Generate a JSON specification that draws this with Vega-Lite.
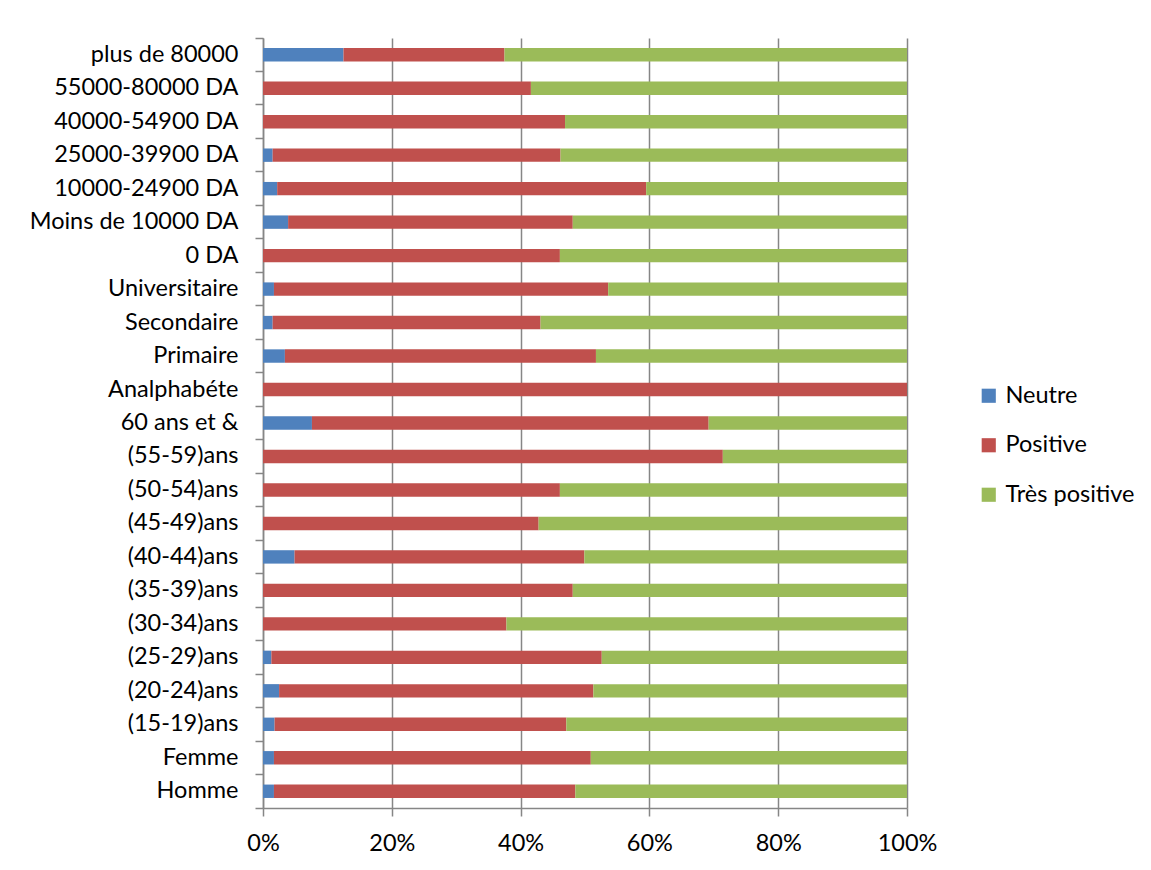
{
  "$schema": "https://vega.github.io/schema/vega-lite/v6.json",
  "width": 644,
  "height": 770,
  "autosize": {"type": "none"},
  "padding": {"left": 263, "top": 38, "right": 244, "bottom": 62},
  "background": "white",
  "config": {"view": {"stroke": null}, "font": "Lato"},
  "data": {"values": [
    {"cat": "plus de 80000", "rep": "Neutre", "val": 12.5},
    {"cat": "plus de 80000", "rep": "Positive", "val": 25.0},
    {"cat": "plus de 80000", "rep": "Très positive", "val": 62.5},
    {"cat": "55000-80000 DA", "rep": "Positive", "val": 41.6},
    {"cat": "55000-80000 DA", "rep": "Très positive", "val": 58.4},
    {"cat": "40000-54900 DA", "rep": "Positive", "val": 46.9},
    {"cat": "40000-54900 DA", "rep": "Très positive", "val": 53.1},
    {"cat": "25000-39900 DA", "rep": "Neutre", "val": 1.5},
    {"cat": "25000-39900 DA", "rep": "Positive", "val": 44.7},
    {"cat": "25000-39900 DA", "rep": "Très positive", "val": 53.8},
    {"cat": "10000-24900 DA", "rep": "Neutre", "val": 2.2},
    {"cat": "10000-24900 DA", "rep": "Positive", "val": 57.3},
    {"cat": "10000-24900 DA", "rep": "Très positive", "val": 40.5},
    {"cat": "Moins de 10000 DA", "rep": "Neutre", "val": 3.9},
    {"cat": "Moins de 10000 DA", "rep": "Positive", "val": 44.2},
    {"cat": "Moins de 10000 DA", "rep": "Très positive", "val": 51.9},
    {"cat": "0 DA", "rep": "Positive", "val": 46.1},
    {"cat": "0 DA", "rep": "Très positive", "val": 53.9},
    {"cat": "Universitaire", "rep": "Neutre", "val": 1.7},
    {"cat": "Universitaire", "rep": "Positive", "val": 51.9},
    {"cat": "Universitaire", "rep": "Très positive", "val": 46.4},
    {"cat": "Secondaire", "rep": "Neutre", "val": 1.5},
    {"cat": "Secondaire", "rep": "Positive", "val": 41.6},
    {"cat": "Secondaire", "rep": "Très positive", "val": 56.9},
    {"cat": "Primaire", "rep": "Neutre", "val": 3.4},
    {"cat": "Primaire", "rep": "Positive", "val": 48.3},
    {"cat": "Primaire", "rep": "Très positive", "val": 48.3},
    {"cat": "Analphabéte", "rep": "Positive", "val": 100},
    {"cat": "60 ans et &", "rep": "Neutre", "val": 7.6},
    {"cat": "60 ans et &", "rep": "Positive", "val": 61.6},
    {"cat": "60 ans et &", "rep": "Très positive", "val": 30.8},
    {"cat": "(55-59)ans", "rep": "Positive", "val": 71.4},
    {"cat": "(55-59)ans", "rep": "Très positive", "val": 28.6},
    {"cat": "(50-54)ans", "rep": "Positive", "val": 46.1},
    {"cat": "(50-54)ans", "rep": "Très positive", "val": 53.9},
    {"cat": "(45-49)ans", "rep": "Positive", "val": 42.8},
    {"cat": "(45-49)ans", "rep": "Très positive", "val": 57.2},
    {"cat": "(40-44)ans", "rep": "Neutre", "val": 4.9},
    {"cat": "(40-44)ans", "rep": "Positive", "val": 45.0},
    {"cat": "(40-44)ans", "rep": "Très positive", "val": 50.1},
    {"cat": "(35-39)ans", "rep": "Positive", "val": 48.1},
    {"cat": "(35-39)ans", "rep": "Très positive", "val": 51.9},
    {"cat": "(30-34)ans", "rep": "Positive", "val": 37.8},
    {"cat": "(30-34)ans", "rep": "Très positive", "val": 62.2},
    {"cat": "(25-29)ans", "rep": "Neutre", "val": 1.3},
    {"cat": "(25-29)ans", "rep": "Positive", "val": 51.3},
    {"cat": "(25-29)ans", "rep": "Très positive", "val": 47.4},
    {"cat": "(20-24)ans", "rep": "Neutre", "val": 2.5},
    {"cat": "(20-24)ans", "rep": "Positive", "val": 48.8},
    {"cat": "(20-24)ans", "rep": "Très positive", "val": 48.7},
    {"cat": "(15-19)ans", "rep": "Neutre", "val": 1.8},
    {"cat": "(15-19)ans", "rep": "Positive", "val": 45.3},
    {"cat": "(15-19)ans", "rep": "Très positive", "val": 52.9},
    {"cat": "Femme", "rep": "Neutre", "val": 1.7},
    {"cat": "Femme", "rep": "Positive", "val": 49.2},
    {"cat": "Femme", "rep": "Très positive", "val": 49.1},
    {"cat": "Homme", "rep": "Neutre", "val": 1.7},
    {"cat": "Homme", "rep": "Positive", "val": 46.8},
    {"cat": "Homme", "rep": "Très positive", "val": 51.5}
  ]},
  "mark": {"type": "bar", "height": {"band": 0.4}},
  "encoding": {
    "y": {
      "field": "cat",
      "type": "nominal",
      "sort": ["plus de 80000", "55000-80000 DA", "40000-54900 DA", "25000-39900 DA", "10000-24900 DA", "Moins de 10000 DA", "0 DA", "Universitaire", "Secondaire", "Primaire", "Analphabéte", "60 ans et &", "(55-59)ans", "(50-54)ans", "(45-49)ans", "(40-44)ans", "(35-39)ans", "(30-34)ans", "(25-29)ans", "(20-24)ans", "(15-19)ans", "Femme", "Homme"],
      "scale": {"paddingInner": 0, "paddingOuter": 0},
      "axis": {
        "title": null,
        "bandPosition": 1,
        "tickExtra": true,
        "tickSize": 8,
        "tickColor": "#868686",
        "tickWidth": 1.5,
        "domainColor": "#868686",
        "domainWidth": 1.5,
        "labelPadding": 17,
        "labelFontSize": 23.5,
        "labelColor": "#000000",
        "labelLimit": 400,
        "grid": false
      }
    },
    "x": {
      "field": "val",
      "type": "quantitative",
      "stack": "zero",
      "scale": {"domain": [0, 100], "nice": false},
      "axis": {
        "title": null,
        "values": [0, 20, 40, 60, 80, 100],
        "labelExpr": "datum.value + '%'",
        "grid": true,
        "gridColor": "#868686",
        "gridWidth": 1.5,
        "tickSize": 8,
        "tickColor": "#868686",
        "tickWidth": 1.5,
        "domainColor": "#868686",
        "domainWidth": 1.5,
        "labelPadding": 15,
        "labelFontSize": 23.5,
        "labelColor": "#000000",
        "labelFlush": false
      }
    },
    "color": {
      "field": "rep",
      "type": "nominal",
      "scale": {"domain": ["Neutre", "Positive", "Très positive"], "range": ["#4F81BD", "#C0504D", "#9BBB59"]},
      "legend": {
        "title": null,
        "orient": "none",
        "legendX": 714,
        "legendY": 346,
        "padding": 0,
        "symbolType": "square",
        "symbolSize": 200,
        "symbolStrokeWidth": 0,
        "labelFontSize": 23.5,
        "labelColor": "#000000",
        "labelOffset": 5,
        "rowPadding": 24.5
      }
    },
    "order": {"field": "rep", "sort": "ascending"}
  }
}
